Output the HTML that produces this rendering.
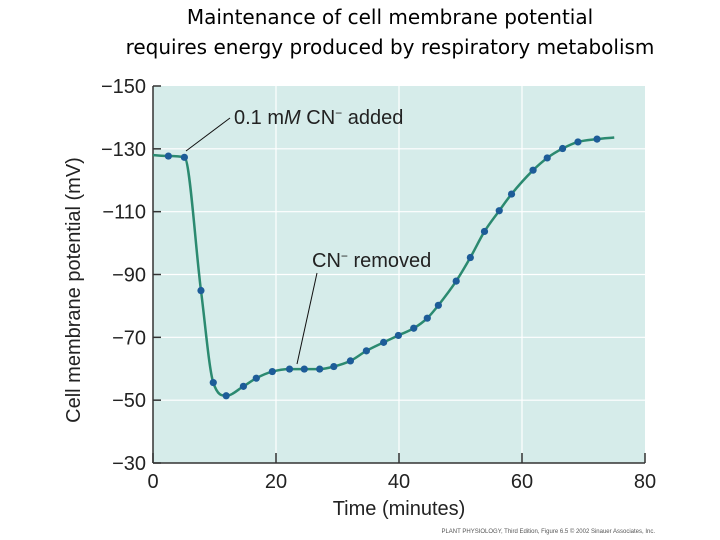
<!DOCTYPE html>
<html><head><meta charset="utf-8"><style>
body{margin:0;background:#fff;}
svg{display:block;}
text{font-family:"Liberation Sans",sans-serif;}
</style></head><body>
<svg width="720" height="540" viewBox="0 0 720 540">
<text x="390" y="24" text-anchor="middle" font-size="20" style="font-family:'Comic Sans MS','DejaVu Sans',sans-serif" fill="#000">Maintenance of cell membrane potential</text>
<text x="390" y="54" text-anchor="middle" font-size="20" style="font-family:'Comic Sans MS','DejaVu Sans',sans-serif" fill="#000">requires energy produced by respiratory metabolism</text>
<rect x="153" y="86" width="492" height="377" fill="#d6ecea"/>
<g id="grid"></g>
<g id="axes"></g>
<g id="series"></g>
<line x1="186" y1="151" x2="230" y2="118" stroke="#111" stroke-width="1"/>
<text x="234" y="124" font-size="20" fill="#222">0.1 m<tspan font-style="italic">M</tspan> CN<tspan dy="-7" font-size="12">−</tspan><tspan dy="7"> added</tspan></text>
<line x1="317" y1="273" x2="297" y2="364" stroke="#111" stroke-width="1"/>
<text x="312" y="267" font-size="20" fill="#222">CN<tspan dy="-7" font-size="12">−</tspan><tspan dy="7"> removed</tspan></text>
<text transform="translate(80,290) rotate(-90)" text-anchor="middle" font-size="20" fill="#222">Cell membrane potential (mV)</text>
<text x="399" y="515" text-anchor="middle" font-size="20" fill="#222">Time (minutes)</text>
<text x="655" y="533" text-anchor="end" font-size="6" fill="#555">PLANT PHYSIOLOGY, Third Edition, Figure 6.5  © 2002 Sinauer Associates, Inc.</text>
</svg>
<script>
const times=[2.5,5.1,7.8,9.8,11.9,14.7,16.8,19.4,22.2,24.6,27.1,29.4,32.1,34.7,37.5,39.9,42.4,44.6,46.4,49.3,51.6,53.9,56.3,58.3,61.8,64.1,66.6,69.1,72.2];
const potentials=[-127.7,-127.3,-84.9,-55.6,-51.4,-54.4,-57.0,-59.1,-59.9,-59.9,-59.9,-60.7,-62.5,-65.7,-68.4,-70.6,-72.9,-76.1,-80.2,-87.9,-95.4,-103.7,-110.3,-115.6,-123.2,-127.1,-130.1,-132.2,-133.1];
const lineStart=[0,-128];
const lineEnd=[75,-133.6];
const xTicks=[0,20,40,60,80];
const yTicks=[-150,-130,-110,-90,-70,-50,-30];
const NS="http://www.w3.org/2000/svg";
const X=t=>153+t*(492/80);
const Y=v=>86+(v+150)*(377/120);
function mk(tag,attrs,parent){const e=document.createElementNS(NS,tag);for(const k in attrs)e.setAttribute(k,attrs[k]);parent.appendChild(e);return e;}
const grid=document.getElementById('grid'),axes=document.getElementById('axes'),series=document.getElementById('series');
xTicks.forEach(t=>{
 if(t>0&&t<80){const g=mk('line',{x1:X(t),x2:X(t),y1:86,y2:463,stroke:'#fff','stroke-width':1.2},grid);
 
 }
 const tk=mk('line',{x1:X(t),x2:X(t),y1:463,y2:453,stroke:'#333','stroke-width':1.5},axes);
 
 
 const lb=mk('text',{x:X(t),y:488,'text-anchor':'middle','font-size':20,fill:'#222'},axes);
 lb.textContent=t;
 
 
});
yTicks.forEach(v=>{
 if(v>-150&&v<-30){const g=mk('line',{x1:153,x2:645,y1:Y(v),y2:Y(v),stroke:'#fff','stroke-width':1.2},grid);
 
 }
 const tk=mk('line',{x1:153,x2:161,y1:Y(v),y2:Y(v),stroke:'#333','stroke-width':1.5},axes);
 
 
 const lb=mk('text',{x:146,y:Y(v)+7,'text-anchor':'end','font-size':20,fill:'#222'},axes);
 lb.textContent='\u2212'+Math.abs(v);
 
 
});
const ax1=mk('line',{x1:153,x2:153,y1:86,y2:463,stroke:'#333','stroke-width':1.5},axes);


const ax2=mk('line',{x1:153,x2:645,y1:463,y2:463,stroke:'#333','stroke-width':1.5},axes);


// monotone cubic (Fritsch-Carlson) through points
const P=[[X(lineStart[0]),Y(lineStart[1])]].concat(times.map((t,i)=>[X(t),Y(potentials[i])])).concat([[X(lineEnd[0]),Y(lineEnd[1])]]);
const n=P.length,dl=[],m=[];
for(let i=0;i<n-1;i++)dl.push((P[i+1][1]-P[i][1])/(P[i+1][0]-P[i][0]));
m[0]=dl[0];m[n-1]=dl[n-2];
for(let i=1;i<n-1;i++){m[i]=(dl[i-1]*dl[i]<=0)?0:(dl[i-1]+dl[i])/2;}
for(let i=0;i<n-1;i++){
 if(dl[i]===0){m[i]=0;m[i+1]=0;continue;}
 const a=m[i]/dl[i],b=m[i+1]/dl[i],s=a*a+b*b;
 if(s>9){const tau=3/Math.sqrt(s);m[i]=tau*a*dl[i];m[i+1]=tau*b*dl[i];}
}
let d='M'+P[0][0]+','+P[0][1];
for(let i=0;i<n-1;i++){
 const h=(P[i+1][0]-P[i][0])/3;
 d+=' C'+(P[i][0]+h)+','+(P[i][1]+m[i]*h)+' '+(P[i+1][0]-h)+','+(P[i+1][1]-m[i+1]*h)+' '+P[i+1][0]+','+P[i+1][1];
}
const path=mk('path',{d:d,fill:'none',stroke:'#2b8a70','stroke-width':2.5},series);


times.forEach((t,i)=>{
 const c=mk('circle',{cx:X(t),cy:Y(potentials[i]),r:3.6,fill:'#1d5c98'},series);
 
 
});
</script>
</body></html>
